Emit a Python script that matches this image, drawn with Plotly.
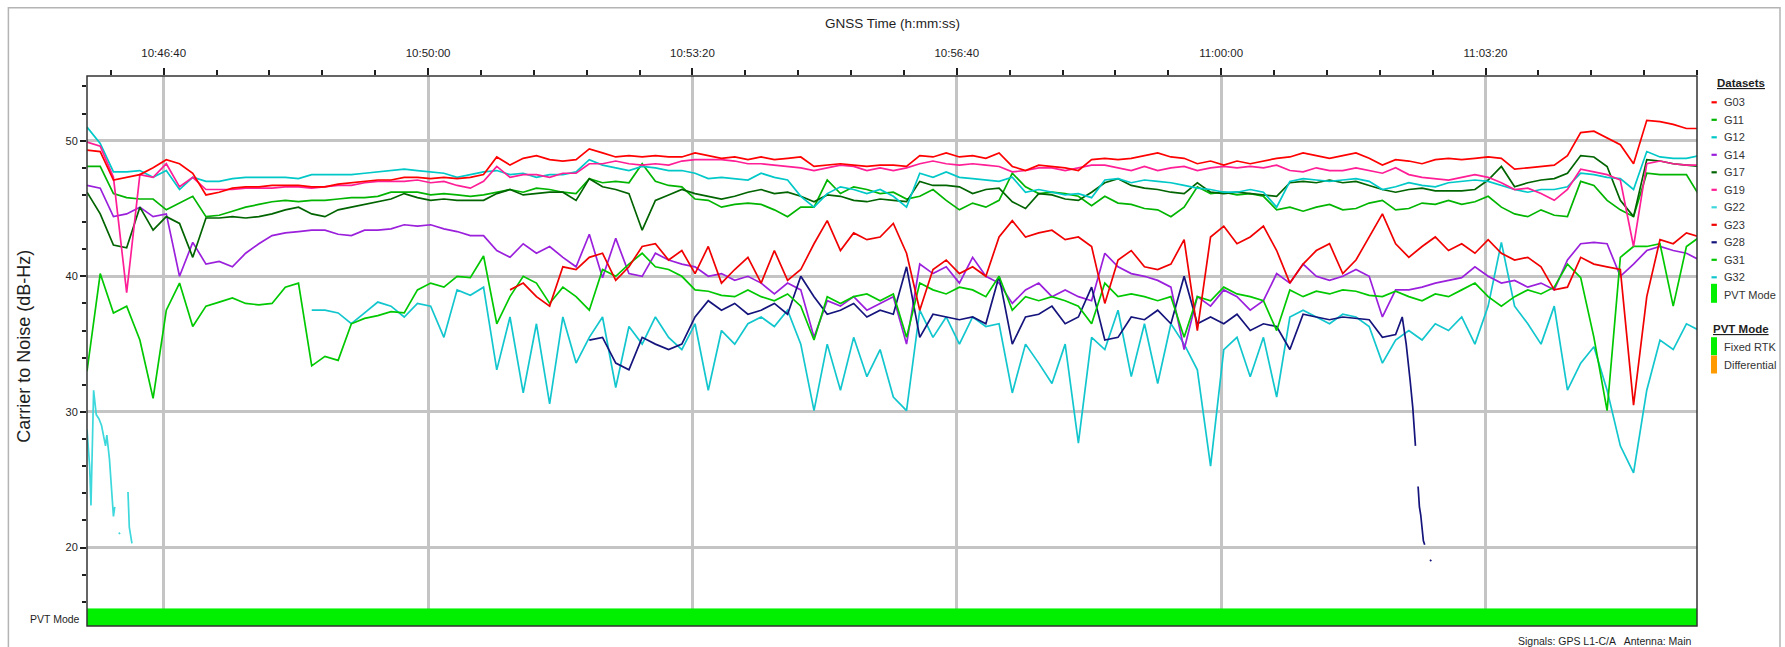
import datetime as dt
import plotly.graph_objects as go

SESSION_DAY = (2021, 6, 15)


def clock(hms):
    h, m, s = (int(v) for v in hms.split(":"))
    return dt.datetime(*SESSION_DAY, h, m, s)


# ---------------------------------------------------------------------------
# Carrier-to-noise samples (dB-Hz), one every 10 s from the first epoch
# ---------------------------------------------------------------------------
EPOCH0 = "10:45:42"
STEP_S = 10
T_START, T_END = "10:45:42", "11:06:00"

g03 = [49.3, 49.2, 47.1, 47.3, 47.5, 48.0, 48.6, 48.3, 47.6, 46.0, 46.2, 46.5, 46.6, 46.6, 46.7, 46.7, 46.7, 46.6, 46.6, 46.8, 46.9, 47.0, 47.1, 47.1, 47.3, 47.3,
       47.2, 47.3, 47.2, 47.3, 47.5, 48.8, 48.2, 48.7, 48.9, 48.6, 48.5, 48.6, 49.4, 49.1, 48.8, 48.9, 48.8, 48.9, 48.8, 48.8, 49.1, 48.9, 48.7, 48.8, 48.6,
       48.8, 48.6, 48.7, 48.8, 48.1, 48.2, 48.3, 48.2, 48.1, 48.2, 48.2, 48.1, 48.9, 48.8, 49.1, 48.8, 48.9, 48.7, 49.1, 48.1, 47.8, 48.2, 48.1, 48.0, 47.8, 48.6,
       48.7, 48.6, 48.7, 48.9, 49.1, 48.8, 48.7, 48.3, 48.5, 48.2, 48.5, 48.3, 48.5, 48.7, 48.8, 49.1, 48.9, 48.7, 48.9, 49.1, 48.7, 48.2, 48.6,
       48.5, 48.3, 48.6, 48.7, 48.6, 48.7, 48.8, 48.7, 47.9, 48.0, 48.1, 48.2, 48.9, 50.6, 50.7, 50.2, 49.7, 48.3, 51.5, 51.4, 51.2, 50.9, 50.9]

g11 = [48.1, 48.1, 46.1, 45.8, 45.7, 45.7, 44.9, 45.4, 45.9, 44.4, 44.5, 44.8, 45.1, 45.3, 45.5, 45.6, 45.5, 45.6, 45.6, 45.7, 45.8, 45.8, 45.9, 46.2, 46.2, 46.2,
       46.0, 46.1, 46.0, 45.9, 46.0, 46.2, 46.4, 46.2, 46.5, 46.4, 46.2, 46.1, 47.2, 46.9, 47.0, 46.9, 48.3, 47.0, 46.7, 46.6, 45.7, 45.6, 45.1, 45.3, 45.4,
       45.3, 44.9, 44.4, 45.1, 45.1, 47.1, 46.1, 46.6, 46.4, 46.1, 46.2, 45.7, 45.9, 46.4, 45.6, 44.9, 45.4, 45.1, 45.6, 47.6, 46.6, 46.1, 46.2, 46.1, 45.9, 45.2,
       45.9, 45.4, 45.3, 45.0, 44.9, 44.4, 45.1, 46.6, 46.1, 46.2, 46.0, 46.1, 45.9, 44.9, 45.1, 44.8, 45.1, 45.3, 44.9, 45.0, 45.4, 45.6, 44.9,
       45.0, 45.4, 45.3, 45.6, 45.3, 45.5, 45.9, 45.1, 44.6, 44.4, 44.9, 44.5, 44.4, 47.0, 46.7, 45.6, 44.9, 44.4, 47.6, 47.5, 47.5, 47.5, 45.9]

g12 = [51.0, 49.8, 47.7, 47.7, 47.8, 47.3, 47.8, 46.4, 47.3, 47.0, 47.0, 47.2, 47.3, 47.3, 47.3, 47.3, 47.2, 47.5, 47.5, 47.5, 47.5, 47.6, 47.7, 47.8, 47.9, 47.8,
       47.7, 47.6, 47.3, 47.5, 47.7, 47.8, 47.5, 47.6, 47.3, 47.5, 47.5, 47.7, 48.6, 48.2, 48.0, 47.8, 48.1, 48.0, 47.8, 47.8, 47.6, 47.2, 47.3, 47.2, 47.1,
       47.6, 47.3, 47.1, 45.9, 45.1, 46.1, 46.6, 46.4, 46.1, 46.4, 45.9, 45.1, 47.6, 47.3, 47.7, 47.3, 47.2, 47.1, 47.0, 47.3, 46.2, 46.4, 46.2, 46.0, 46.1, 45.8,
       47.1, 47.2, 46.9, 47.1, 47.0, 46.9, 46.7, 46.5, 46.4, 46.2, 46.2, 46.4, 46.2, 45.1, 47.0, 47.2, 47.1, 47.0, 47.1, 47.2, 47.0, 46.4, 46.6,
       46.9, 46.7, 46.6, 46.9, 47.0, 47.1, 47.0, 46.7, 46.4, 46.2, 46.4, 46.4, 46.6, 47.6, 47.5, 47.3, 47.2, 46.4, 49.2, 48.8, 48.7, 48.7, 48.9]

g14 = [46.7, 46.5, 44.4, 44.6, 45.1, 44.4, 44.6, 40.0, 42.5, 40.9, 41.1, 40.7, 41.7, 42.4, 43.0, 43.2, 43.3, 43.4, 43.4, 43.1, 43.0, 43.4, 43.4, 43.5, 43.8, 43.7,
       43.8, 43.5, 43.3, 43.0, 43.0, 41.9, 41.4, 42.4, 41.7, 42.2, 41.4, 40.7, 43.1, 39.9, 42.8, 40.2, 40.0, 41.7, 41.2, 40.9, 40.7, 40.0, 40.2, 39.7, 40.0,
       39.5, 38.7, 39.5, 39.0, 35.5, 38.2, 37.8, 38.5, 37.5, 38.0, 38.5, 35.0, 40.9, 40.2, 40.7, 39.5, 41.4, 40.0, 39.5, 38.0, 39.0, 39.5, 38.5, 39.0, 38.5, 38.2,
       41.7, 40.7, 40.2, 40.0, 39.7, 39.2, 34.6, 38.5, 37.8, 39.0, 38.5, 37.5, 38.2, 40.2, 39.5, 40.9, 40.0, 39.7, 40.0, 40.5, 40.0, 37.0, 39.0,
       39.0, 39.2, 39.5, 39.7, 39.9, 40.7, 40.0, 39.5, 39.7, 39.2, 39.5, 39.0, 41.2, 42.4, 42.5, 42.4, 40.0, 40.9, 41.9, 42.2, 41.9, 41.7, 41.2]

g17 = [46.2, 44.6, 42.3, 42.1, 45.1, 43.4, 44.4, 43.9, 41.4, 44.3, 44.3, 44.4, 44.3, 44.4, 44.6, 44.9, 45.1, 44.6, 44.4, 44.9, 45.1, 45.3, 45.5, 45.7, 46.1, 45.8,
       45.6, 45.7, 45.6, 45.6, 45.6, 46.1, 46.4, 46.0, 46.1, 46.2, 46.2, 45.6, 47.2, 46.6, 46.4, 46.1, 43.4, 45.6, 46.0, 46.4, 46.1, 45.9, 45.7, 45.9, 46.2,
       46.4, 46.1, 46.2, 45.9, 45.5, 46.0, 45.9, 45.6, 45.5, 45.7, 45.6, 45.5, 47.0, 46.7, 46.7, 46.6, 46.1, 46.4, 46.5, 45.5, 45.0, 46.1, 46.0, 45.7, 45.6, 46.2,
       46.9, 47.2, 46.7, 46.5, 46.4, 46.2, 46.1, 46.9, 46.2, 46.1, 46.2, 46.1, 46.0, 45.9, 46.9, 47.0, 46.9, 47.1, 46.9, 47.0, 46.7, 46.4, 46.2,
       46.4, 46.5, 46.3, 46.3, 46.3, 46.4, 47.1, 48.1, 46.6, 46.9, 47.1, 47.2, 47.6, 48.9, 48.8, 48.1, 45.6, 44.4, 48.6, 48.5, 48.3, 48.2, 48.1]

g19 = [49.9, 49.6, 47.3, 38.8, 47.5, 47.3, 48.3, 46.6, 47.3, 46.4, 46.4, 46.4, 46.5, 46.5, 46.5, 46.6, 46.6, 46.5, 46.6, 46.7, 46.7, 46.9, 47.0, 47.0, 47.0, 47.1,
       46.9, 47.0, 46.7, 46.5, 47.0, 48.1, 47.3, 47.5, 47.5, 47.3, 47.6, 47.6, 48.3, 48.3, 48.5, 48.3, 48.2, 48.3, 48.2, 48.5, 48.6, 48.6, 48.6, 48.5, 48.3,
       48.3, 48.2, 48.1, 48.0, 47.8, 48.0, 48.2, 48.1, 47.8, 48.0, 47.8, 48.0, 48.3, 48.5, 48.3, 48.2, 48.3, 48.2, 48.1, 47.7, 47.8, 48.0, 48.0, 47.8, 48.0, 48.2,
       48.2, 48.0, 47.8, 48.1, 47.8, 48.0, 48.1, 47.8, 48.0, 48.1, 48.0, 48.1, 48.0, 48.2, 47.8, 47.7, 48.0, 47.8, 47.8, 48.0, 47.8, 47.6, 48.0,
       47.5, 47.3, 47.2, 47.1, 47.3, 47.5, 47.3, 46.9, 46.4, 46.5, 46.1, 45.6, 46.4, 47.9, 47.7, 47.5, 47.1, 42.2, 48.3, 48.5, 48.3, 48.2, 48.2]

g23 = [None] * 32 + [
       39.0, 39.5, 38.5, 37.8, 40.7, 40.5, 41.4, 41.7, 39.7, 40.7, 42.2, 42.4, 41.2, 41.9, 40.2, 42.2, 39.5, 40.5, 41.4,
       39.5, 41.9, 39.7, 40.5, 42.4, 44.1, 41.9, 43.2, 42.7, 42.9, 43.9, 41.7, 37.5, 40.5, 41.2, 40.2, 40.7, 40.0, 42.9, 44.1, 42.9, 43.2, 43.4, 42.7, 42.9, 42.2,
       38.0, 41.2, 41.9, 40.7, 40.5, 40.9, 42.7, 36.0, 42.9, 43.7, 42.4, 42.9, 43.7, 41.9, 39.5, 40.9, 41.9, 42.4, 40.2, 41.2, 42.9, 44.6, 42.4,
       41.4, 42.2, 42.9, 41.9, 42.4, 41.7, 42.7, 41.7, 41.2, 41.4, 40.7, 39.0, 39.2, 41.4, 40.9, 40.7, 40.5, 30.5, 38.5, 42.7, 42.4, 43.2, 42.9]

g28 = [None] * 38 + [
       35.3, 35.5, 33.6, 33.1, 35.5, 35.0, 34.6, 35.0, 37.0, 38.2, 37.5, 38.0, 37.2,
       37.5, 38.0, 37.2, 40.0, 38.5, 37.2, 37.5, 38.0, 37.0, 37.5, 37.2, 40.7, 35.5, 37.2, 37.0, 36.8, 37.0, 36.5, 40.0, 35.0, 37.0, 37.2, 37.8, 36.5, 37.0, 39.2,
       35.3, 35.5, 37.0, 36.8, 37.5, 36.5, 40.0, 36.5, 37.0, 36.5, 37.2, 36.0, 36.5, 36.3, 34.6, 37.2, 37.0, 36.8, 37.0, 36.9, 36.8, 35.5, 35.7]
# G28 loses lock: last seconds logged at 1 s / 2 s spacing
g28_tail_time = ["11:02:17", "11:02:20", "11:02:23", "11:02:25", "11:02:27", "11:02:28", "11:02:29", "11:02:30",
                 "11:02:31", "11:02:32", "11:02:33", "11:02:34", "11:02:35", "11:02:38", "11:02:39"]
g28_tail = [37.0, 35.0, 32.3, 30.3, 27.5, None, 24.5, 23.0, 22.4, 21.5, 20.5, 20.2, None, 19.1, 19.0]

g31 = [33.0, 40.2, 37.3, 37.8, 35.3, 31.0, 37.5, 39.5, 36.3, 37.8, 38.1, 38.4, 38.0, 37.9, 38.0, 39.2, 39.5, 33.4, 34.1, 33.8, 36.5, 36.9, 37.1, 37.4, 37.3, 39.0,
       39.5, 39.2, 40.0, 39.9, 41.5, 36.5, 38.5, 40.0, 39.5, 38.0, 39.2, 38.5, 37.5, 40.5, 40.0, 40.9, 41.7, 40.7, 40.5, 40.0, 39.0, 38.9, 38.6, 38.5, 39.0,
       38.5, 38.2, 38.7, 37.8, 35.3, 38.5, 38.0, 38.5, 38.7, 38.2, 38.7, 35.5, 39.5, 39.0, 38.7, 39.2, 39.0, 38.5, 40.0, 37.5, 38.5, 38.2, 38.5, 38.2, 37.8, 36.5,
       39.5, 38.5, 38.7, 38.5, 38.2, 38.5, 35.5, 38.5, 38.2, 39.2, 38.7, 38.5, 38.2, 36.0, 39.0, 38.5, 38.9, 38.7, 39.0, 38.9, 38.6, 38.5, 38.9,
       38.5, 38.2, 38.7, 38.5, 39.0, 39.5, 38.5, 37.8, 38.5, 39.0, 38.7, 39.2, 40.9, 39.9, 35.5, 30.1, 41.4, 42.2, 42.2, 42.4, 37.8, 42.2, 42.9]

g32 = [None] * 17 + [
       37.5, 37.5, 37.3, 36.5, 37.3, 38.1, 37.8, 37.0, 38.0,
       37.8, 35.5, 39.0, 38.6, 39.2, 33.1, 37.0, 31.4, 36.5, 30.6, 37.0, 33.6, 35.5, 37.0, 31.8, 36.3, 35.0, 37.0, 35.5, 34.6, 36.5, 31.6, 36.0, 35.0, 36.5,
       37.0, 36.3, 37.5, 35.0, 30.1, 35.0, 31.6, 35.5, 32.6, 34.6, 31.1, 30.1, 37.5, 35.5, 37.0, 35.0, 37.0, 36.3, 36.5, 31.4, 35.0, 33.6, 32.1, 35.0, 27.7, 35.5,
       34.6, 37.5, 32.6, 36.5, 32.1, 36.5, 35.0, 33.1, 26.0, 34.6, 35.5, 32.6, 35.5, 31.1, 37.0, 37.5, 37.0, 36.5, 37.2, 37.0, 36.3, 33.6, 35.3,
       36.0, 35.3, 36.5, 36.0, 37.0, 35.0, 37.8, 42.5, 37.8, 36.5, 35.0, 37.8, 31.6, 33.6, 34.8, 31.6, 27.5, 25.5, 31.6, 35.3, 34.6, 36.5, 36.0]

# G22 is only tracked briefly at the start of the session (1-2 s logging)
g22_time = ["10:45:42", "10:45:44", "10:45:45", "10:45:47", "10:45:49", "10:45:51", "10:45:53", "10:45:56", "10:45:57", "10:45:59",
            "10:46:02", "10:46:03", "10:46:04", "10:46:06", "10:46:07", "10:46:08", "10:46:13", "10:46:14", "10:46:16"]
g22 = [28.7, 26.0, 23.1, 31.6, 29.8, 29.5, 29.0, 27.5, 28.3, 26.5, 22.3, 23.0, None, 21.1, 21.0, None, 24.1, 21.5, 20.3]

# PVT solution mode over the session
pvt_time = ["10:45:42", "11:06:00"]
pvt_mode = ["Fixed RTK", "Fixed RTK"]
PVT_MODES = ["Fixed RTK", "Differential"]
PVT_COLORS = {"Fixed RTK": "#00f000", "Differential": "#ff9a00"}

SAT_NAMES = ["G03", "G11", "G12", "G14", "G17", "G19", "G22", "G23", "G28", "G31", "G32"]
SAT_COLORS = {
    "G03": "#ff0000", "G11": "#00b400", "G12": "#00c8c8", "G14": "#9b20dc",
    "G17": "#006400", "G19": "#ff1e96", "G22": "#3cd8dc", "G23": "#f00000",
    "G28": "#14147c", "G31": "#00c800", "G32": "#12c6ce",
}

# ---------------------------------------------------------------------------
epochs = [clock(EPOCH0) + dt.timedelta(seconds=STEP_S * k) for k in range(len(g03))]

series = {
    "G03": (epochs, g03),
    "G11": (epochs, g11),
    "G12": (epochs, g12),
    "G14": (epochs, g14),
    "G17": (epochs, g17),
    "G19": (epochs, g19),
    "G22": ([clock(t) for t in g22_time], g22),
    "G23": (epochs[:len(g23)], g23),
    "G28": (epochs[:len(g28)] + [clock(t) for t in g28_tail_time], g28 + g28_tail),
    "G31": (epochs, g31),
    "G32": (epochs[:len(g32)], g32),
}

DRAW_ORDER = ["G22", "G32", "G14", "G28", "G31", "G23", "G11", "G17", "G12", "G19", "G03"]

fig = go.Figure()
for name in DRAW_ORDER:
    xs, ys = series[name]
    fig.add_trace(go.Scatter(
        x=xs, y=ys, mode="lines", name=name,
        line=dict(color=SAT_COLORS[name], width=1.7),
        connectgaps=False, showlegend=False, xaxis="x", yaxis="y",
    ))

# PVT mode strip along the bottom
for mode in PVT_MODES:
    xs = [clock(t) for t, m in zip(pvt_time, pvt_mode) if m == mode]
    if not xs:
        continue
    fig.add_trace(go.Scatter(
        x=xs, y=[1] * len(xs), mode="lines", fill="tozeroy",
        fillcolor=PVT_COLORS[mode], line=dict(width=0, color=PVT_COLORS[mode]),
        showlegend=False, xaxis="x", yaxis="y2",
    ))

# ---------------------------------------------------------------------------
W, H = 1785, 647
ML, MR, MT, MB = 87, 88, 76, 21
PW, PH = W - ML - MR, H - MT - MB
STRIP_FRAC = 17.7 / PH


def px(x):
    return (x - ML) / PW


def py(y):
    return (MT + PH - y) / PH


FONT = "Liberation Sans, Arial, sans-serif"
INK = "#1e1e1e"
GRID = "#c4c4c4"

fig.update_layout(
    width=W, height=H,
    margin=dict(l=ML, r=MR, t=MT, b=MB),
    paper_bgcolor="white", plot_bgcolor="white",
    font=dict(family=FONT, color=INK, size=11),
    showlegend=False,
    xaxis=dict(
        type="date", side="top", anchor="y",
        range=[clock(T_START), clock(T_END)],
        tick0=clock("10:46:40"), dtick=200000, tickformat="%H:%M:%S",
        ticks="outside", ticklen=7, tickwidth=2, tickcolor=INK,
        ticklabelstandoff=6,
        tickfont=dict(size=11.5, color=INK),
        showgrid=True, gridcolor=GRID, gridwidth=2.5,
        minor=dict(tick0=clock("10:46:40"), dtick=40000, ticks="outside",
                   ticklen=5, tickwidth=1.5, tickcolor=INK, showgrid=False),
        zeroline=False, showline=False, fixedrange=True,
    ),
    yaxis=dict(
        domain=[STRIP_FRAC, 1], range=[15.52, 54.77],
        tick0=0, dtick=10, ticks="outside", ticklen=6, tickwidth=2, tickcolor=INK,
        tickfont=dict(size=11, color=INK),
        showgrid=True, gridcolor=GRID, gridwidth=2.5,
        minor=dict(dtick=2, ticks="outside", ticklen=4, tickwidth=1.5,
                   tickcolor=INK, showgrid=False),
        zeroline=False, showline=False, fixedrange=True,
    ),
    yaxis2=dict(
        domain=[0, STRIP_FRAC], range=[0, 1], anchor="x",
        showgrid=False, showticklabels=False, ticks="", zeroline=False,
        showline=False, fixedrange=True,
    ),
)

shapes = [
    # outer panel border
    dict(type="rect", xref="paper", yref="paper",
         x0=px(8.4), x1=px(1780), y0=py(660), y1=py(7.7),
         line=dict(color="#b4b4b4", width=1.5), layer="below"),
    # plot frame
    dict(type="rect", xref="paper", yref="paper", x0=0, x1=1, y0=0, y1=1,
         line=dict(color="#333333", width=1.5), layer="above"),
]

annotations = [
    dict(text="GNSS Time (h:mm:ss)", x=0.5, y=py(23.5), xref="paper", yref="paper",
         xanchor="center", yanchor="middle", showarrow=False,
         font=dict(size=13.5, color=INK)),
    dict(text="Carrier to Noise (dB-Hz)", x=px(24), y=py(346.7), xref="paper", yref="paper",
         xanchor="center", yanchor="middle", textangle=-90, showarrow=False,
         font=dict(size=18, color=INK)),
    dict(text="PVT Mode", x=px(82), y=py(619), xref="paper", yref="paper",
         xanchor="right", yanchor="middle", showarrow=False,
         font=dict(size=10.5, color=INK)),
    dict(text="Signals: GPS L1-C/A   Antenna: Main", x=px(1694), y=py(640.5),
         xref="paper", yref="paper", xanchor="right", yanchor="middle", showarrow=False,
         font=dict(size=10.5, color=INK)),
]

# Legend panel
LEG_SYM_X0, LEG_SYM_X1, LEG_TXT_X = 1711.5, 1716.8, 1721.5
LEG_ROW0, LEG_ROW_H = 102.3, 17.5

annotations.append(dict(text="<b><u>Datasets</u></b>", x=px(1741), y=py(82.7),
                        xref="paper", yref="paper", xanchor="center", yanchor="middle",
                        showarrow=False, font=dict(size=11.5, color=INK)))
for k, name in enumerate(SAT_NAMES):
    yc = LEG_ROW0 + k * LEG_ROW_H
    shapes.append(dict(type="line", xref="paper", yref="paper",
                       x0=px(LEG_SYM_X0), x1=px(LEG_SYM_X1), y0=py(yc), y1=py(yc),
                       line=dict(color=SAT_COLORS[name], width=2.2)))
    annotations.append(dict(text=name, x=px(LEG_TXT_X), y=py(yc), xref="paper", yref="paper",
                            xanchor="left", yanchor="middle", showarrow=False,
                            font=dict(size=11, color="#333333")))

yc = LEG_ROW0 + len(SAT_NAMES) * LEG_ROW_H
shapes.append(dict(type="rect", xref="paper", yref="paper",
                   x0=px(1711), x1=px(1717), y0=py(yc + 8), y1=py(yc - 11),
                   fillcolor=PVT_COLORS["Fixed RTK"], line=dict(width=0)))
annotations.append(dict(text="PVT Mode", x=px(LEG_TXT_X), y=py(yc), xref="paper", yref="paper",
                        xanchor="left", yanchor="middle", showarrow=False,
                        font=dict(size=11, color="#333333")))

annotations.append(dict(text="<b><u>PVT Mode</u></b>", x=px(1741), y=py(329.3),
                        xref="paper", yref="paper", xanchor="center", yanchor="middle",
                        showarrow=False, font=dict(size=11.5, color=INK)))
for k, mode in enumerate(PVT_MODES):
    yc = 346.7 + k * 18.3
    shapes.append(dict(type="rect", xref="paper", yref="paper",
                       x0=px(1711), x1=px(1717), y0=py(yc + 8.5), y1=py(yc - 9.5),
                       fillcolor=PVT_COLORS[mode], line=dict(width=0)))
    annotations.append(dict(text=mode, x=px(LEG_TXT_X), y=py(yc), xref="paper", yref="paper",
                            xanchor="left", yanchor="middle", showarrow=False,
                            font=dict(size=11, color="#333333")))

fig.update_layout(shapes=shapes, annotations=annotations)

fig.write_html("out.html")
